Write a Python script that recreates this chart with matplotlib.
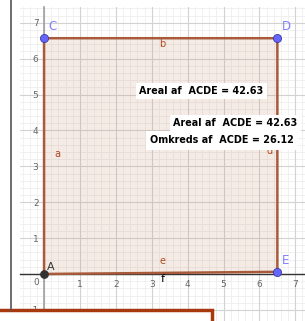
import matplotlib.pyplot as plt
import matplotlib.patches as patches
import numpy as np

# hjørnepunkter i polygonet ACDE
punkt_navne = ['A', 'C', 'D', 'E']
punkt_x = [0.0, 0.0, 6.5, 6.5]
punkt_y = [0.0, 6.57, 6.57, 0.06]

# sidernes navne og placering
side_navne = ['a', 'b', 'd', 'e']
side_x = [0.38, 3.3, 6.28, 3.3]
side_y = [3.35, 6.4, 3.42, 0.35]

areal = 42.63
omkreds = 26.12

ticks = [1, 2, 3, 4, 5, 6, 7]
yticks = [-1, 1, 2, 3, 4, 5, 6, 7]

fig = plt.figure(figsize=(3.05, 3.21), dpi=100)
ax = fig.add_axes([20 / 305, 0, 285 / 305, 314 / 321])
ax.set_xlim(-0.67, 7.27)
ax.set_ylim(-1.31, 7.44)

# gitter
for v in np.arange(-1, 8.01, 0.2):
    ax.axvline(v, color='#eeeeee', lw=0.6, zorder=0)
    ax.axhline(v, color='#eeeeee', lw=0.6, zorder=0)
for v in range(-1, 9):
    ax.axvline(v, color='#d2d2d2', lw=0.8, zorder=0)
    ax.axhline(v, color='#d2d2d2', lw=0.8, zorder=0)

for s in ['top', 'right']:
    ax.spines[s].set_visible(False)
ax.spines['left'].set_position(('data', 0))
ax.spines['bottom'].set_position(('data', 0))
ax.spines['left'].set_color('#a0a0a0')
ax.spines['left'].set_linewidth(1.2)
ax.spines['bottom'].set_color('#333333')
ax.spines['bottom'].set_linewidth(1.0)
ax.set_xticks(ticks)
ax.set_yticks(yticks)
ax.tick_params(length=0, labelsize=6.5, labelcolor='#666666', pad=4)
ax.text(-0.22, -0.25, '0', fontsize=6.5, color='#666666', ha='center', va='center')

# polygon
poly = patches.Polygon(list(zip(punkt_x, punkt_y)), closed=True,
                       facecolor='#c88a6a', alpha=0.17, edgecolor='none', zorder=2)
ax.add_patch(poly)
ax.plot(punkt_x + [punkt_x[0]], punkt_y + [punkt_y[0]], color='#a85a3a', lw=1.8, zorder=3)

for i, navn in enumerate(side_navne):
    ax.text(side_x[i], side_y[i], navn, color='#b04a20', fontsize=7, ha='center', va='center', zorder=4)
ax.text(3.3, -0.15, 'f', color='black', fontsize=8, ha='center', va='center', zorder=4)

# punkter
for i, navn in enumerate(punkt_navne):
    if navn == 'A':
        ax.scatter(punkt_x[i], punkt_y[i], s=28, color='#333333', zorder=5)
        ax.text(punkt_x[i] + 0.08, punkt_y[i] + 0.12, navn, color='#333333', fontsize=8, zorder=5)
    else:
        ax.scatter(punkt_x[i], punkt_y[i], s=34, color='#6666ff', edgecolor='#3a3aa0', lw=0.6, zorder=5)
        ax.text(punkt_x[i] + 0.12, punkt_y[i] + 0.22, navn, color='#8080ff', fontsize=8.5, zorder=5)

# tekstbokse
ax.text(2.65, 5.1, 'Areal af  ACDE = %.2f' % areal, fontsize=6.9, fontweight='bold',
        va='center', zorder=6, bbox=dict(facecolor='white', edgecolor='none', pad=2.5))
ax.text(3.6, 4.2, 'Areal af  ACDE = %.2f' % areal, fontsize=6.9, fontweight='bold',
        va='center', zorder=6, bbox=dict(facecolor='white', edgecolor='none', pad=2.5))
ax.text(2.95, 3.72, 'Omkreds af  ACDE = %.2f' % omkreds, fontsize=6.9, fontweight='bold',
        va='center', zorder=6, bbox=dict(facecolor='white', edgecolor='none', pad=3))

# ramme til venstre og boks forneden
fig.add_artist(plt.Line2D([11 / 305, 11 / 305], [11 / 321, 1], color='#555555', lw=1.2))
fig.add_artist(patches.Rectangle((-0.02, -0.05), 212 / 305 + 0.02, (11 / 321) + 0.05,
                                 facecolor='white', edgecolor='#a8390f', lw=2.5,
                                 transform=fig.transFigure))

fig.savefig('out.png', dpi=100)
